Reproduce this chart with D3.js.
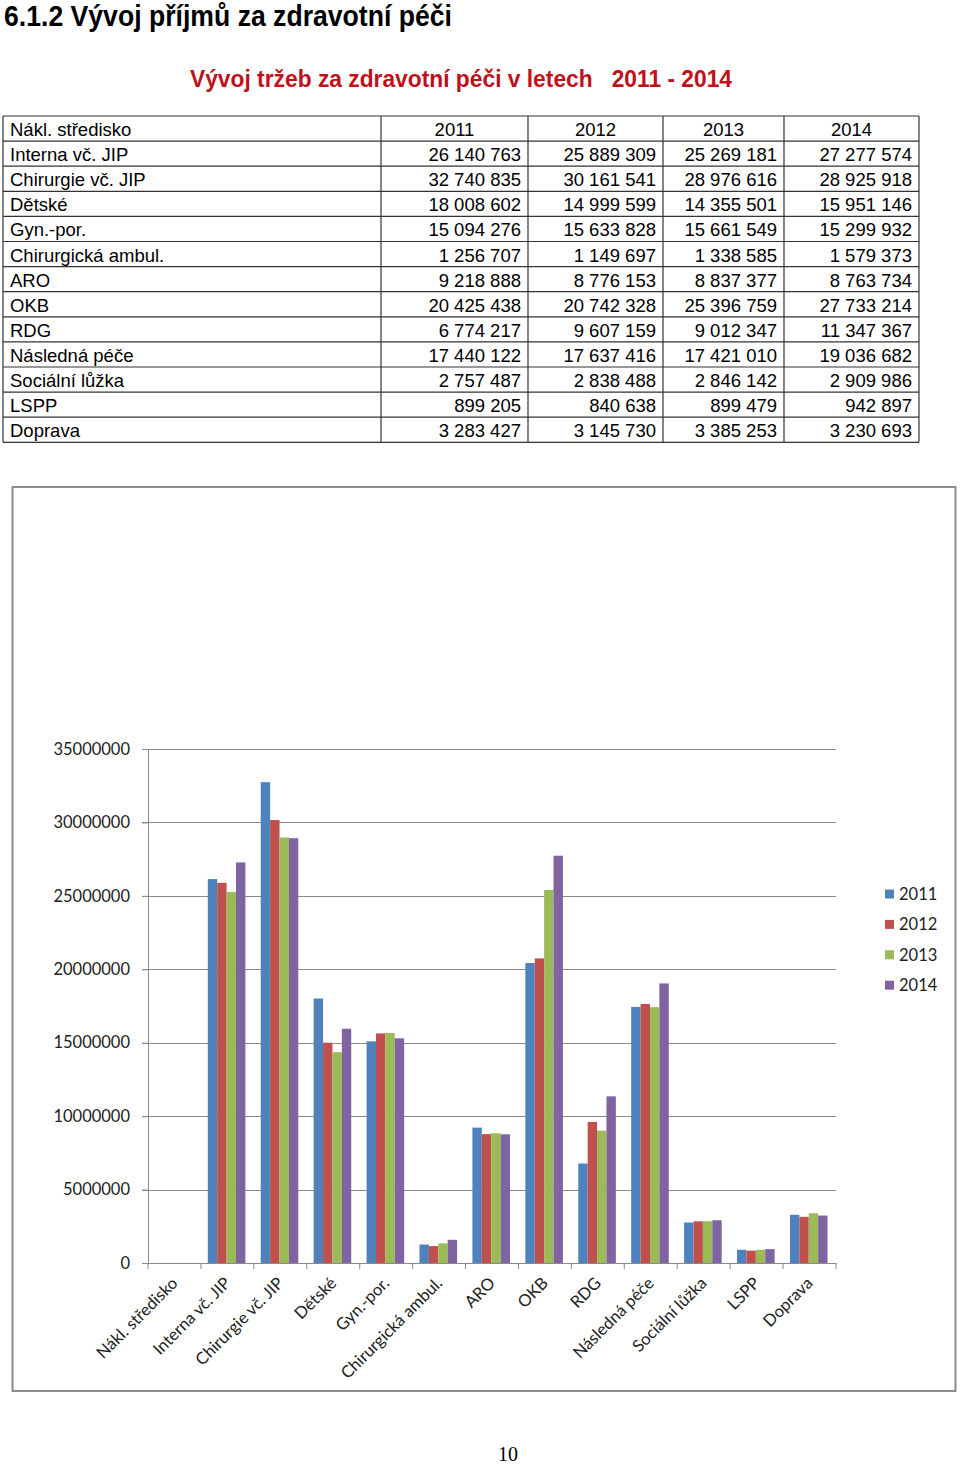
<!DOCTYPE html>
<html><head><meta charset="utf-8">
<script src="https://cdn.jsdelivr.net/npm/d3@7"></script>
<style>body{margin:0;background:#fff}svg{display:block}</style>
</head><body>
<script>
const years = ["2011","2012","2013","2014"];
const categories = ["Nákl. středisko","Interna vč. JIP","Chirurgie vč. JIP","Dětské","Gyn.-por.","Chirurgická ambul.","ARO","OKB","RDG","Následná péče","Sociální lůžka","LSPP","Doprava"];
const tableLabels = ["Interna vč. JIP","Chirurgie vč. JIP","Dětské","Gyn.-por.","Chirurgická ambul.","ARO","OKB","RDG","Následná péče","Sociální lůžka","LSPP","Doprava"];
const v2011 = [2011,26140763,32740835,18008602,15094276,1256707,9218888,20425438,6774217,17440122,2757487,899205,3283427];
const v2012 = [2012,25889309,30161541,14999599,15633828,1149697,8776153,20742328,9607159,17637416,2838488,840638,3145730];
const v2013 = [2013,25269181,28976616,14355501,15661549,1338585,8837377,25396759,9012347,17421010,2846142,899479,3385253];
const v2014 = [2014,27277574,28925918,15951146,15299932,1579373,8763734,27733214,11347367,19036682,2909986,942897,3230693];
const yTicks = [0,5000000,10000000,15000000,20000000,25000000,30000000,35000000];
const colors = ["#4F81BD","#C0504D","#9BBB59","#8064A2"];
const mainTitle = "6.1.2 Vývoj příjmů za zdravotní péči";
const subTitle = "Vývoj tržeb za zdravotní péči v letech   2011 - 2014";
const headerLabel = "Nákl. středisko";
const pageNumber = "10";

(function(){
const series = [v2011,v2012,v2013,v2014];
const W = 960, H = 1464;
const svg = d3.select("body").append("svg").attr("width",W).attr("height",H);

// Titles
svg.append("text").attr("x",4).attr("y",26)
  .attr("font-family","'Liberation Sans Narrow','Liberation Sans',Arial,sans-serif")
  .attr("font-weight","bold").attr("font-size",29).attr("fill","#000")
  .attr("textLength",448).attr("lengthAdjust","spacingAndGlyphs").text(mainTitle);
svg.append("text").attr("x",190).attr("y",87)
  .attr("font-family","'Liberation Sans Narrow','Liberation Sans',Arial,sans-serif")
  .attr("font-weight","bold").attr("font-size",23.5).attr("fill","#C0101A")
  .attr("textLength",542).attr("lengthAdjust","spacingAndGlyphs")
  .style("white-space","pre").text(subTitle);

// Table
const colX = [3,381,528,663,784,919];
const rowTop = 116, rowH = 25.1;
const nRows = tableLabels.length + 1;
const tbl = svg.append("g").attr("font-family","'Liberation Sans',Arial,sans-serif").attr("font-size",18.5).attr("fill","#000");
const rowsY = d3.range(nRows+1).map(i=>rowTop+i*rowH);
rowsY.forEach(yy=>tbl.append("line").attr("x1",colX[0]).attr("x2",colX[5]).attr("y1",yy).attr("y2",yy).attr("stroke","#333").attr("stroke-width",1.2));
colX.forEach(xx=>tbl.append("line").attr("x1",xx).attr("x2",xx).attr("y1",rowTop).attr("y2",rowsY[nRows]).attr("stroke","#333").attr("stroke-width",1.2));
const fmt = v => d3.format(",")(v).replace(/,/g," ");
tbl.append("text").attr("x",10).attr("y",rowTop+20).text(headerLabel);
years.forEach((yr,j)=>tbl.append("text").attr("x",(colX[j+1]+colX[j+2])/2).attr("y",rowTop+20).attr("text-anchor","middle").text(yr));
tableLabels.forEach((lab,i)=>{
  const yy = rowTop+(i+1)*rowH+20;
  tbl.append("text").attr("x",10).attr("y",yy).text(lab);
  series.forEach((s,j)=>tbl.append("text").attr("x",colX[j+2]-7).attr("y",yy).attr("text-anchor","end").text(fmt(s[i+1])));
});

// Chart frame
svg.append("rect").attr("x",12.5).attr("y",487).attr("width",943).attr("height",904)
  .attr("fill","#fff").attr("stroke","#8c8c8c").attr("stroke-width",2);

const pL = 148, pR = 836, pT = 749, pB = 1263;
const y = d3.scaleLinear().domain([0,35000000]).range([pB,pT]);
const x0 = d3.scaleBand().domain(categories).range([pL,pR]).padding(0);
const bw = x0.bandwidth();
const x1 = d3.scaleBand().domain(years).range([bw*0.13, bw*0.84]).padding(0);

const chartFont = "Lato,'Open Sans',sans-serif";
const g = svg.append("g");
g.selectAll("line.grid").data(yTicks.slice(1)).join("line")
  .attr("x1",pL-6).attr("x2",pR).attr("y1",d=>Math.round(y(d))+0.5).attr("y2",d=>Math.round(y(d))+0.5)
  .attr("stroke","#8a8a8a").attr("stroke-width",1);
const yAxis = d3.axisLeft(y).tickValues(yTicks).tickSize(6).tickFormat(d3.format("d"));
const ya = svg.append("g").attr("transform",`translate(${pL},0)`).call(yAxis);
ya.select(".domain").attr("stroke","#8a8a8a");
ya.selectAll(".tick line").attr("stroke","#8a8a8a");
ya.selectAll(".tick text").attr("font-family",chartFont).attr("font-size",16.5).attr("fill","#222").attr("x",-18);

const groups = svg.append("g").selectAll("g").data(categories).join("g")
  .attr("transform",d=>`translate(${x0(d)},0)`);
groups.selectAll("rect").data((d,i)=>years.map((yr,j)=>({yr,v:series[j][i],c:colors[j]}))).join("rect")
  .attr("x",d=>x1(d.yr)).attr("width",x1.bandwidth())
  .attr("y",d=>y(d.v)).attr("height",d=>pB-y(d.v)).attr("fill",d=>d.c);

const xa = svg.append("g").attr("transform",`translate(0,${pB})`)
  .call(d3.axisBottom(x0).tickSize(0).tickFormat(""));
xa.select(".domain").attr("stroke","#8a8a8a");
const tickPos = d3.range(categories.length+1).map(i=>pL+i*bw);
xa.selectAll("line.tk").data(tickPos).join("line").attr("class","tk")
  .attr("x1",d=>d).attr("x2",d=>d).attr("y1",0).attr("y2",6).attr("stroke","#8a8a8a");
svg.append("g").selectAll("text").data(categories).join("text")
  .attr("transform",d=>`translate(${x0(d)+bw/2-4},${pB+13}) rotate(-45)`)
  .attr("text-anchor","end").attr("dy","0.7em")
  .attr("font-family",chartFont).attr("font-size",16.6).attr("fill","#222").text(d=>d);

const lg = svg.append("g").selectAll("g").data(years).join("g")
  .attr("transform",(d,i)=>`translate(885,${894+i*30.4})`);
lg.append("rect").attr("x",0).attr("y",-4.5).attr("width",9).attr("height",9).attr("fill",(d,i)=>colors[i]);
lg.append("text").attr("x",14).attr("y",0).attr("dy","0.36em").attr("font-family",chartFont)
  .attr("font-size",16.5).attr("fill","#222").text(d=>d);

svg.append("text").attr("x",508).attr("y",1461).attr("text-anchor","middle")
  .attr("font-family","'Liberation Serif','Times New Roman',serif").attr("font-size",20).attr("fill","#000").text(pageNumber);
})();
</script>
</body></html>
